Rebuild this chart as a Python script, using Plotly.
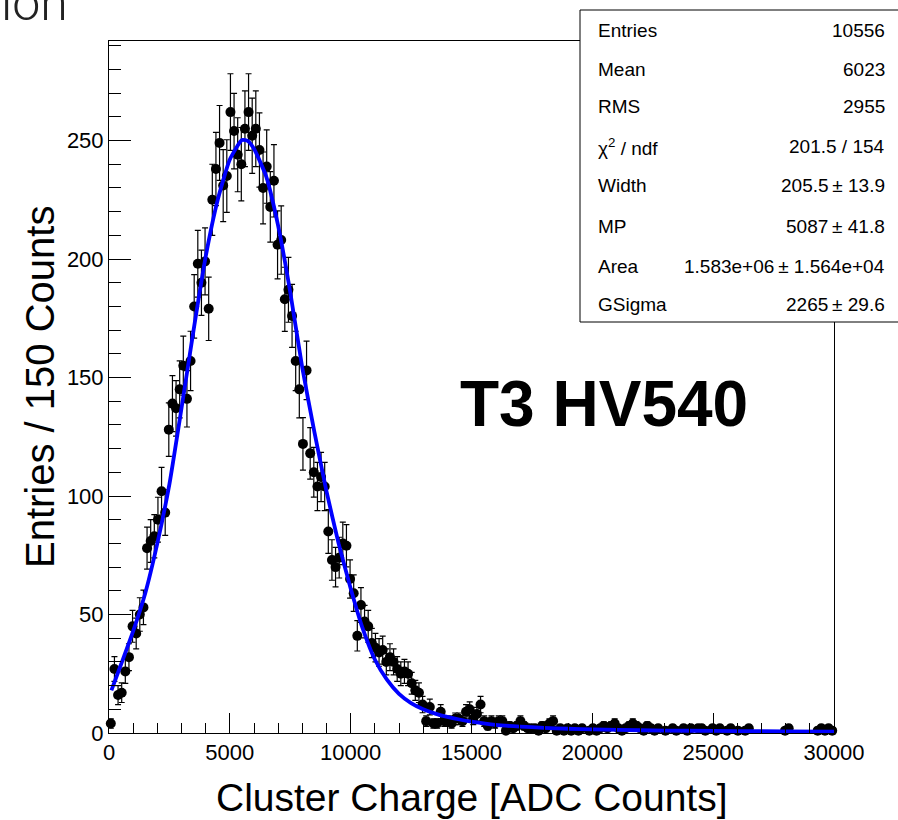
import numpy as np
import plotly.graph_objects as go

# ---------------- data ----------------
bin_width = 150
n_bins = 200
counts = [
    4, 27, 16, 17, 26, 32, 45, 42, 50, 53,
    78, 81, 83, 90, 102, 93, 128, 139, 137, 145,
    155, 141, 157, 180, 198, 190, 199, 179, 225, 238,
    249, 231, 235, 262, 254, 244, 240, 255, 262, 252,
    255, 246, 230, 239, 222, 233, 206, 208, 183, 187,
    176, 157, 145, 122, 153, 118, 110, 104, 108, 104,
    85, 73, 70, 74, 80, 79, 65, 59, 41, 54,
    47, 45, 38, 36, 34, 35, 30, 32, 30, 27,
    25, 26, 25, 21, 18, 17, 12, 5, 11, 4,
    4, 9, 5, 5, 4, 6, 6, 5, 9, 10,
    6, 8, 12, 5, 3, 5, 4, 5, 5, 1,
    3, 2, 3, 5, 3, 2, 2, 2, 1, 3,
    2, 4, 5, 1, 2, 1, 2, 1, 2, 1,
    2, None, 1, 2, 1, 2, 3, 2, 3, 4,
    2, 1, 2, 3, 4, 3, 2, 1, 3, 2,
    1, 2, None, 1, None, 2, 1, None, 2, 1,
    2, None, 2, 2, 1, None, 2, 1, 2, None,
    1, 2, None, 1, None, 1, 2, None, None, None,
    None, None, None, None, None, None, 1, 2, None, None,
    None, None, None, None, None, 1, 2, 1, 2, 1,
]

fit_x = [100, 500, 1000, 1500, 2000, 2500, 3000, 3500, 4000, 4500,
         5000, 5500, 5750, 6000, 6500, 7000, 7500, 8000, 8500, 9000,
         9500, 10000, 10500, 11000, 11500, 12000, 12500, 13000, 13500, 14000,
         14500, 15000, 16000, 17000, 18000, 19000, 20000, 22000, 24000, 26000,
         28000, 30000]
fit_y = [18, 29, 43, 59, 80, 105, 137, 170, 201, 225,
         242, 250.2, 249.8, 246.5, 235, 214, 186, 154, 127, 102,
         80, 61, 44, 31, 22.5, 16.5, 12.6, 10, 8.2, 6.8,
         5.7, 4.8, 3.4, 2.7, 2.2, 1.8, 1.5, 1.15, 0.95, 0.8,
         0.68, 0.58]

x_tick_vals = [0, 5000, 10000, 15000, 20000, 25000, 30000]
y_tick_vals = [0, 50, 100, 150, 200, 250]

stats_labels = ["Entries", "Mean", "RMS", "χ<sup>2</sup> / ndf", "Width", "MP", "Area", "GSigma"]
stats_values = ["10556", "6023", "2955", "201.5 / 154", "205.5\u2009± 13.9", "5087\u2009± 41.8",
                "1.583e+06\u2009± 1.564e+04", "2265\u2009± 29.6"]

# ---------------- geometry helpers ----------------
W, H = 898, 820
L, R, T, B = 109, 834, 41, 733


def px(xp):
    return (xp - L) / (R - L)


def py(yp):
    return (B - yp) / (B - T)


centers = [bin_width * (i + 0.5) for i in range(n_bins)]
xs = [c for c, v in zip(centers, counts) if v is not None]
ys = [v for v in counts if v is not None]
errs = [float(np.sqrt(v)) for v in ys]

fig = go.Figure()
fig.add_trace(go.Scatter(
    x=xs, y=ys, mode="markers",
    marker=dict(color="black", size=10, symbol="circle"),
    error_y=dict(type="data", array=errs, visible=True, color="black", thickness=1.2, width=3),
    cliponaxis=False, showlegend=False,
))
fig.add_trace(go.Scatter(
    x=fit_x, y=fit_y, mode="lines",
    line=dict(color="#0000ff", width=3.8, shape="spline", smoothing=0.5),
    showlegend=False,
))

axis_font = dict(family="Liberation Sans, Arial, sans-serif", size=22, color="black")
fig.update_xaxes(
    range=[0, 30000], tickvals=x_tick_vals, ticktext=[str(v) for v in x_tick_vals],
    ticks="inside", ticklen=20, tickwidth=1, tickcolor="black",
    minor=dict(ticks="inside", ticklen=10, dtick=1000, tickcolor="black", tickwidth=1, showgrid=False),
    showline=True, linecolor="black", linewidth=1, mirror=True,
    showgrid=False, zeroline=False, tickfont=axis_font,
)
fig.update_yaxes(
    range=[0, 292], tickvals=y_tick_vals, ticktext=[str(v) for v in y_tick_vals],
    ticks="inside", ticklen=22, tickwidth=1, tickcolor="black",
    minor=dict(ticks="inside", ticklen=12, dtick=10, tickcolor="black", tickwidth=1, showgrid=False),
    showline=True, linecolor="black", linewidth=1, mirror=True,
    showgrid=False, zeroline=False, tickfont=axis_font,
)

annotations = []
title_font = dict(family="Liberation Sans, Arial, sans-serif", size=39, color="black")
annotations.append(dict(text="Cluster Charge [ADC Counts]", x=0.5, y=py(798), xref="paper", yref="paper",
                        xanchor="center", yanchor="middle", showarrow=False, font=title_font))
annotations.append(dict(text="Entries / 150 Counts", x=px(40), y=0.5, xref="paper", yref="paper",
                        xanchor="center", yanchor="middle", textangle=-90, showarrow=False,
                        font=dict(family="Liberation Sans, Arial, sans-serif", size=40, color="black")))
annotations.append(dict(text="<b>T3 HV540</b>", x=px(604), y=py(404), xref="paper", yref="paper",
                        xanchor="center", yanchor="middle", showarrow=False,
                        font=dict(family="Liberation Sans, Arial, sans-serif", size=64, color="black")))
annotations.append(dict(text="ion", x=px(70), y=py(3), xref="paper", yref="paper",
                        xanchor="right", yanchor="middle", showarrow=False,
                        font=dict(family="Roboto, sans-serif", size=50, color="#222222", weight=300)))

row_y = [30, 69, 107, 147, 186, 226, 266, 304]
stats_font = dict(family="Liberation Sans, Arial, sans-serif", size=19, color="black")
for lab, val, yy in zip(stats_labels, stats_values, row_y):
    annotations.append(dict(text=lab, x=px(596), y=py(yy), xref="paper", yref="paper",
                            xanchor="left", yanchor="middle", showarrow=False, font=stats_font))
    annotations.append(dict(text=val, x=px(887), y=py(yy), xref="paper", yref="paper",
                            xanchor="right", yanchor="middle", showarrow=False, font=stats_font))

shapes = [dict(type="rect", xref="paper", yref="paper", x0=px(580), x1=px(905), y0=py(322), y1=py(10),
               line=dict(color="black", width=1), fillcolor="white", layer="above")]

fig.update_layout(
    width=W, height=H,
    margin=dict(l=L, r=W - R, t=T, b=H - B),
    paper_bgcolor="white", plot_bgcolor="white",
    annotations=annotations, shapes=shapes,
    showlegend=False,
)

fig.write_html("out.html", config={"displayModeBar": False},
               post_script="document.body.style.margin='0';document.body.style.overflow='hidden';")
